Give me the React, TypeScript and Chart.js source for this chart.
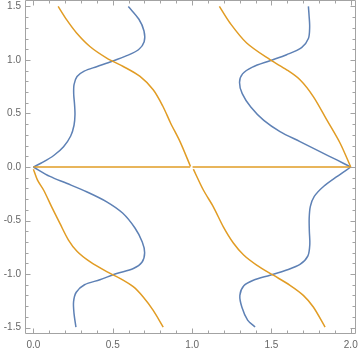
import React, { useEffect, useRef } from 'react';
import { Chart, registerables } from 'chart.js';

Chart.register(...registerables);

// Tick values
const xMajorTicks = [0, 0.5, 1, 1.5, 2];
const yMajorTicks = [-1.5, -1, -0.5, 0, 0.5, 1, 1.5];
const xMinorTicks = [0.1, 0.2, 0.3, 0.4, 0.6, 0.7, 0.8, 0.9, 1.1, 1.2, 1.3, 1.4, 1.6, 1.7, 1.8, 1.9];
const yMinorTicks = [-1.4, -1.3, -1.2, -1.1, -0.9, -0.8, -0.7, -0.6, -0.4, -0.3, -0.2, -0.1,
  0.1, 0.2, 0.3, 0.4, 0.6, 0.7, 0.8, 0.9, 1.1, 1.2, 1.3, 1.4];

// Blue curves [x, y]
const blueUpperLeft: [number, number][] = [
  [0.0, 0.0], [0.06, 0.045], [0.13, 0.11], [0.19, 0.19], [0.235, 0.29], [0.256, 0.39],
  [0.262, 0.49], [0.259, 0.59], [0.254, 0.68], [0.256, 0.77], [0.275, 0.845], [0.32, 0.895],
  [0.398, 0.937], [0.493, 0.986], [0.588, 1.04], [0.662, 1.095], [0.698, 1.17], [0.697, 1.27],
  [0.665, 1.38], [0.598, 1.5],
];
const blueLowerLeft: [number, number][] = [
  [0.0, 0.0], [0.104, -0.088], [0.209, -0.152], [0.335, -0.231], [0.462, -0.325], [0.562, -0.43],
  [0.64, -0.57], [0.686, -0.7], [0.701, -0.8], [0.684, -0.89], [0.63, -0.948], [0.525, -0.995],
  [0.419, -1.053], [0.322, -1.1], [0.27, -1.17], [0.253, -1.26], [0.256, -1.37], [0.268, -1.495],
];
const blueUpperRight: [number, number][] = [
  [2.0, 0.0], [1.912, 0.066], [1.806, 0.143], [1.68, 0.237], [1.554, 0.331], [1.452, 0.435],
  [1.37, 0.56], [1.316, 0.685], [1.299, 0.79], [1.318, 0.87], [1.38, 0.933], [1.491, 0.993],
  [1.596, 1.049], [1.69, 1.115], [1.733, 1.2], [1.741, 1.31], [1.737, 1.42], [1.733, 1.5],
];
const blueLowerRight: [number, number][] = [
  [2.0, 0.0], [1.912, -0.09], [1.83, -0.18], [1.77, -0.275], [1.745, -0.37], [1.738, -0.48],
  [1.739, -0.6], [1.742, -0.72], [1.73, -0.83], [1.68, -0.91], [1.596, -0.962], [1.491, -1.011],
  [1.386, -1.058], [1.326, -1.11], [1.301, -1.2], [1.314, -1.31], [1.35, -1.43], [1.397, -1.495],
];

// Orange curves [x, y]
const orangeUpperLeft: [number, number][] = [
  [0.156, 1.5], [0.209, 1.376], [0.272, 1.252], [0.356, 1.126], [0.462, 1.018], [0.566, 0.939],
  [0.672, 0.846], [0.755, 0.721], [0.815, 0.57], [0.865, 0.409], [0.924, 0.237], [0.99, 0.005],
];
const orangeLowerLeft: [number, number][] = [
  [0.0, -0.02], [0.025, -0.12], [0.064, -0.215], [0.115, -0.372], [0.167, -0.527], [0.22, -0.68],
  [0.276, -0.79], [0.356, -0.885], [0.462, -0.978], [0.545, -1.04], [0.629, -1.118], [0.692, -1.214],
  [0.755, -1.339], [0.818, -1.495],
];
const orangeUpperRight: [number, number][] = [
  [1.172, 1.5], [1.239, 1.345], [1.344, 1.158], [1.491, 1.002], [1.596, 0.908], [1.68, 0.815],
  [1.764, 0.658], [1.849, 0.44], [1.933, 0.222], [2.0, 0.0],
];
const orangeLowerRight: [number, number][] = [
  [1.008, -0.02], [1.071, -0.215], [1.134, -0.372], [1.197, -0.559], [1.26, -0.71], [1.325, -0.822],
  [1.407, -0.916], [1.512, -1.011], [1.617, -1.105], [1.701, -1.199], [1.764, -1.308], [1.838, -1.495],
];
const orangeAxisLeft: [number, number][] = [[0.0, 0.0], [0.988, 0.0]];
const orangeAxisRight: [number, number][] = [[1.003, 0.0], [2.0, 0.0]];

const BLUE = '#5e81b5';
const ORANGE = '#e19c24';
const FRAME = '#a3a3a3';

const framePlugin = {
  id: 'mmaFrame',
  afterDraw(chart: any) {
    const { ctx, chartArea: a, scales } = chart;
    const xs = scales.x;
    const ys = scales.y;
    ctx.save();
    ctx.strokeStyle = FRAME;
    ctx.lineWidth = 1;
    const L = Math.round(a.left) + 0.5;
    const R = Math.round(a.right) - 0.5;
    const T = Math.round(a.top) + 0.5;
    const B = Math.round(a.bottom) - 0.5;
    ctx.beginPath();
    ctx.rect(L, T, R - L, B - T);
    ctx.stroke();
    ctx.beginPath();
    const xt = (v: number, len: number) => {
      const p = Math.round(xs.getPixelForValue(v)) + 0.5;
      ctx.moveTo(p, B); ctx.lineTo(p, B - len);
      ctx.moveTo(p, T); ctx.lineTo(p, T + len);
    };
    const yt = (v: number, len: number) => {
      const p = Math.round(ys.getPixelForValue(v)) + 0.5;
      ctx.moveTo(L, p); ctx.lineTo(L + len, p);
      ctx.moveTo(R, p); ctx.lineTo(R - len, p);
    };
    xMajorTicks.forEach((v) => xt(v, 5));
    xMinorTicks.forEach((v) => xt(v, 3));
    yMajorTicks.forEach((v) => yt(v, 5));
    yMinorTicks.forEach((v) => yt(v, 3));
    ctx.stroke();
    ctx.restore();
  },
};

function toPts(arr: [number, number][]) {
  return arr.map(([x, y]) => ({ x, y }));
}

export default function App() {
  const ref = useRef<HTMLCanvasElement>(null);
  useEffect(() => {
    if (!ref.current) return;
    const mk = (data: [number, number][], color: string, order: number) => ({
      data: toPts(data),
      borderColor: color,
      backgroundColor: color,
      borderWidth: 1.5,
      showLine: true,
      pointRadius: 0,
      tension: 0.3,
      fill: false,
      order,
    });
    const chart = new Chart(ref.current, {
      type: 'scatter',
      data: {
        datasets: [
          mk(blueUpperLeft, BLUE, 2),
          mk(blueLowerLeft, BLUE, 2),
          mk(blueUpperRight, BLUE, 2),
          mk(blueLowerRight, BLUE, 2),
          mk(orangeUpperLeft, ORANGE, 1),
          mk(orangeLowerLeft, ORANGE, 1),
          mk(orangeUpperRight, ORANGE, 1),
          mk(orangeLowerRight, ORANGE, 1),
          mk(orangeAxisLeft, ORANGE, 1),
          mk(orangeAxisRight, ORANGE, 1),
        ],
      },
      options: {
        animation: false,
        responsive: false,
        devicePixelRatio: 1,
        layout: { padding: { top: 0, right: 4, left: 0, bottom: 0 } },
        plugins: { legend: { display: false }, tooltip: { enabled: false } },
        scales: {
          x: {
            type: 'linear',
            min: -0.053,
            max: 2.033,
            grid: { display: false, drawTicks: false },
            border: { display: false },
            afterBuildTicks: (s: any) => { s.ticks = xMajorTicks.map((v) => ({ value: v })); },
            afterFit: (s: any) => { s.height = 17; s.paddingLeft = 0; s.paddingRight = 0; },
            ticks: {
              autoSkip: false,
              maxRotation: 0,
              padding: 5,
              color: '#666',
              font: { family: 'Liberation Sans', size: 10 },
              callback: (v: any) => Number(v).toFixed(1),
            },
          },
          y: {
            type: 'linear',
            min: -1.56,
            max: 1.56,
            grid: { display: false, drawTicks: false },
            border: { display: false },
            afterBuildTicks: (s: any) => { s.ticks = yMajorTicks.map((v) => ({ value: v })); },
            afterFit: (s: any) => { s.width = 25; s.paddingTop = 0; s.paddingBottom = 0; },
            ticks: {
              autoSkip: false,
              padding: 4,
              color: '#666',
              font: { family: 'Liberation Sans', size: 10 },
              callback: (v: any) => Number(v).toFixed(1),
            },
          },
        },
      },
      plugins: [framePlugin],
    } as any);
    return () => chart.destroy();
  }, []);
  return (
    <div style={{ position: 'absolute', left: 0, top: 0, width: 360, height: 351 }}>
      <canvas ref={ref} width={360} height={351} />
    </div>
  );
}
